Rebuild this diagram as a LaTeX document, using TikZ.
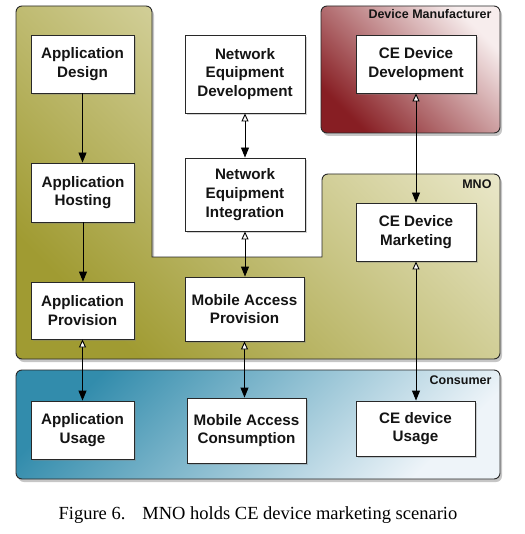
\documentclass[tikz,border=0pt]{standalone}
\usepackage{fontspec}
\newfontfamily\boxfont{Liberation Sans}
\newfontfamily\capfont{Liberation Serif}
\usetikzlibrary{arrows.meta,shadows}
\definecolor{olivedark}{RGB}{160,155,50}
\definecolor{olivelight}{RGB}{240,238,214}
\definecolor{reddark}{RGB}{135,30,35}
\definecolor{redlight}{RGB}{247,237,237}
\definecolor{bluedark}{RGB}{50,140,172}
\definecolor{bluelight}{RGB}{238,244,249}
\definecolor{edge}{RGB}{40,40,40}
\tikzset{
  box/.style={draw=edge, line width=0.9pt, fill=white, align=center,
    font=\boxfont\bfseries\fontsize{15.2}{18.7}\selectfont, text=black!92,
    inner sep=0pt, drop shadow={shadow xshift=1.5pt, shadow yshift=-2pt, opacity=0.35}},
  region/.style={draw=edge, line width=0.9pt,
    drop shadow={shadow xshift=2pt, shadow yshift=-3pt, opacity=0.45}},
  rlabel/.style={font=\boxfont\bfseries\fontsize{12.5}{14}\selectfont, anchor=east, text=black!92},
  flow/.style={line width=0.9pt, draw=black, -{Triangle[length=10pt,width=8pt]}},
  biflow/.style={line width=0.9pt, draw=black,
    {Triangle[open,fill=white,length=8pt,width=7pt]}-{Triangle[length=10pt,width=8pt]}}
}
\begin{document}
\begin{tikzpicture}[x=1pt,y=-1pt]
\useasboundingbox (0,0) rectangle (524,534);
% MNO region (L-shape)
\shade[region, top color=olivelight, bottom color=olivedark, shading angle=-45]
  (16,180) [rounded corners=6pt] -- (16,6) -- (152,6) [sharp corners] -- (152,257) -- (322,257)
  [rounded corners=6pt] -- (322,174) -- (500,174) -- (500,359) -- (16,359) -- cycle;
% Device manufacturer
\shade[region, rounded corners=6pt, top color=redlight, bottom color=reddark, shading angle=-45]
  (321,6) rectangle (500,133);
% Consumer
\shade[region, rounded corners=6pt, top color=bluedark, bottom color=bluelight, shading angle=45]
  (16,370) rectangle (500,479);
\node[rlabel] (ldm) at (495,14) {Device Manufacturer};
\node[rlabel] (lmno) at (495,184) {MNO};
\node[rlabel] (lcon) at (495,380) {Consumer};
% boxes
\node[box, minimum width=103pt, minimum height=58pt] (ad) at (82.5,64) {Application\\Design};
\node[box, minimum width=120pt, minimum height=78pt] (ned) at (245,74) {Network\\Equipment\\Development};
\node[box, minimum width=120pt, minimum height=58pt] (cedd) at (416,64) {CE Device\\Development};
\node[box, minimum width=103pt, minimum height=59pt] (ah) at (83,192.5) {Application\\Hosting};
\node[box, minimum width=120pt, minimum height=73pt] (nei) at (245,194.5) {Network\\Equipment\\Integration};
\node[box, minimum width=120pt, minimum height=58pt] (cem) at (416,232) {CE Device\\Marketing};
\node[box, minimum width=103pt, minimum height=57pt] (ap) at (82.5,310.5) {Application\\Provision};
\node[box, minimum width=119pt, minimum height=64pt] (map) at (244.5,309) {Mobile Access\\Provision};
\node[box, minimum width=103pt, minimum height=58pt] (au) at (82.5,430) {Application\\Usage};
\node[box, minimum width=119pt, minimum height=65pt] (mac) at (246.5,430.5) {Mobile Access\\Consumption};
\node[box, minimum width=119pt, minimum height=55pt] (ceu) at (415.5,428.5) {CE device\\Usage};
% connectors
\draw[flow] (ad.south) -- (ad.south |- ah.north);
\draw[flow] (ah.south) -- (ah.south |- ap.north);
\draw[biflow] (ap.south) -- (ap.south |- au.north);
\draw[biflow] (ned.south) -- (ned.south |- nei.north);
\draw[biflow] (nei.south) -- (nei.south |- map.north);
\draw[biflow] (map.south) -- (map.south |- mac.north);
\draw[biflow] (cedd.south) -- (cedd.south |- cem.north);
\draw[biflow] (cem.south) -- (cem.south |- ceu.north);
% caption
\node[font=\capfont\fontsize{18.5}{22}\selectfont] (cap) at (258,515) {Figure 6.\hspace{17pt}MNO holds CE device marketing scenario};
\end{tikzpicture}
\end{document}
